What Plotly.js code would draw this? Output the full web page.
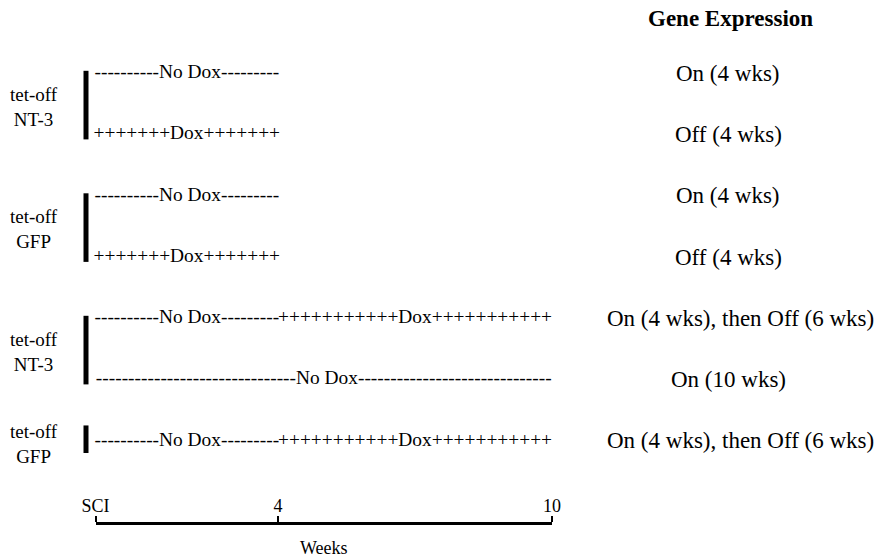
<!DOCTYPE html>
<html><head><meta charset="utf-8">
<script src="https://cdn.plot.ly/plotly-3.0.1.min.js"></script>
<style>html,body{margin:0;padding:0;background:#fff}#chart{width:876px;height:560px}</style>
</head><body><div id="chart"></div>
<script>
// ---- data ----
const groupLabels = ['tet-off<br>NT-3', 'tet-off<br>GFP', 'tet-off<br>NT-3', 'tet-off<br>GFP'];
const groupFirstRow = [0, 2, 4, 6];
const groupLastRow = [1, 3, 5, 6];

const segRow = [0, 1, 2, 3, 4, 4, 5, 6, 6];
const segStartWeek = [0, 0, 0, 0, 0, 4, 0, 0, 4];
const segEndWeek = [4, 4, 4, 4, 4, 10, 10, 4, 10];
const segTreatment = ['No Dox', 'Dox', 'No Dox', 'Dox', 'No Dox', 'Dox', 'No Dox', 'No Dox', 'Dox'];
const segPadLeft = [10, 7, 10, 7, 10, 11, 31, 10, 11];
const segPadRight = [9, 7, 9, 7, 9, 11, 30, 9, 11];

const expressionRows = [0, 1, 2, 3, 4, 5, 6];
const expressionText = ['On (4 wks)', 'Off (4 wks)', 'On (4 wks)', 'Off (4 wks)',
  'On (4 wks), then Off (6 wks)', 'On (10 wks)', 'On (4 wks), then Off (6 wks)'];

const timelineWeeks = [0, 4, 10];
const timelineLabels = ['SCI', '4', '10'];
const timelineTitle = 'Weeks';
const columnTitle = 'Gene Expression';

// ---- layout constants (pixels of the 876x560 page) ----
const W = 876, H = 560;
const pxWeek0 = 95.5, pxPerWeek = 45.65;
const pxRow0 = 73.25, pxPerRow = 61.25;
const FONT = '"Liberation Serif", "Times New Roman", serif';
const xr = [-pxWeek0 / pxPerWeek, (W - pxWeek0) / pxPerWeek];
const yr = [(H - pxRow0) / pxPerRow, -pxRow0 / pxPerRow];
const barWeek = (86 - pxWeek0) / pxPerWeek;
const timelinePx = 523;

const traces = [];

// vertical group bars
groupFirstRow.forEach((f, i) => {
  const l = groupLastRow[i];
  const single = f === l;
  traces.push({
    type: 'scatter', mode: 'lines', xaxis: 'x', yaxis: 'y',
    x: [barWeek, barWeek],
    y: [f - (single ? 0.25 : 0.04), l + (single ? 0.2 : 0.08)],
    line: {color: '#000', width: 5}, hoverinfo: 'skip', showlegend: false
  });
});

// treatment rows (text made of dashes / plus signs)
const segText = segTreatment.map((t, i) => {
  const c = t === 'Dox' ? '+' : '-';
  return c.repeat(segPadLeft[i]) + t + c.repeat(segPadRight[i]);
});
traces.push({
  type: 'scatter', mode: 'text', xaxis: 'x', yaxis: 'y',
  x: segStartWeek.map((s, i) => (s + segEndWeek[i]) / 2),
  y: segRow,
  text: segText,
  textposition: 'middle center',
  textfont: {family: FONT, size: 19.4, color: '#000'},
  cliponaxis: false,
  hoverinfo: 'skip', showlegend: false
});

// invisible trace to carry the timeline axis
traces.push({
  type: 'scatter', mode: 'markers', xaxis: 'x2', yaxis: 'y',
  x: timelineWeeks, y: timelineWeeks.map(() => null),
  hoverinfo: 'skip', showlegend: false
});

const annotations = [];
groupLabels.forEach((g, i) => {
  annotations.push({
    xref: 'paper', yref: 'y', x: 34 / W, y: (groupFirstRow[i] + groupLastRow[i]) / 2 + 0.05,
    text: g, showarrow: false, xanchor: 'center', yanchor: 'middle',
    font: {family: FONT, size: 19, color: '#000'}
  });
});
expressionText.forEach((t, i) => {
  const long = t.length > 15;
  annotations.push({
    xref: 'paper', yref: 'y', x: long ? 1 : 728 / W, y: expressionRows[i],
    text: t, showarrow: false, xanchor: long ? 'right' : 'center', yanchor: 'middle',
    font: {family: FONT, size: 23, color: '#000'}
  });
});
annotations.push({
  xref: 'paper', yref: 'paper', x: 730 / W, y: 1 - 18 / H,
  text: '<b>' + columnTitle + '</b>', showarrow: false, xanchor: 'center', yanchor: 'middle',
  font: {family: FONT, size: 23, color: '#000'}
});
annotations.push({
  xref: 'paper', yref: 'paper', x: (pxWeek0 + pxWeek0 + 10 * pxPerWeek) / 2 / W, y: 1 - 548 / H,
  text: timelineTitle, showarrow: false, xanchor: 'center', yanchor: 'middle',
  font: {family: FONT, size: 18, color: '#000'}
});

const layout = {
  width: W, height: H,
  margin: {l: 0, r: 0, t: 0, b: 0, pad: 0},
  paper_bgcolor: '#fff', plot_bgcolor: 'rgba(0,0,0,0)',
  showlegend: false,
  xaxis: {range: xr, visible: false, fixedrange: true},
  yaxis: {range: yr, visible: false, fixedrange: true},
  xaxis2: {
    domain: [pxWeek0 / W, (pxWeek0 + 10 * pxPerWeek) / W],
    range: [0, 10], anchor: 'free', position: 1 - timelinePx / H, side: 'top',
    showline: true, linecolor: '#000', linewidth: 2.5,
    ticks: 'outside', ticklen: 6, tickwidth: 2, tickcolor: '#000',
    ticklabelstandoff: -3,
    tickvals: timelineWeeks, ticktext: timelineLabels,
    tickfont: {family: FONT, size: 18, color: '#000'},
    showgrid: false, zeroline: false, fixedrange: true
  },
  annotations: annotations
};

Plotly.newPlot('chart', traces, layout, {displayModeBar: false, staticPlot: true});
</script>
</body></html>
